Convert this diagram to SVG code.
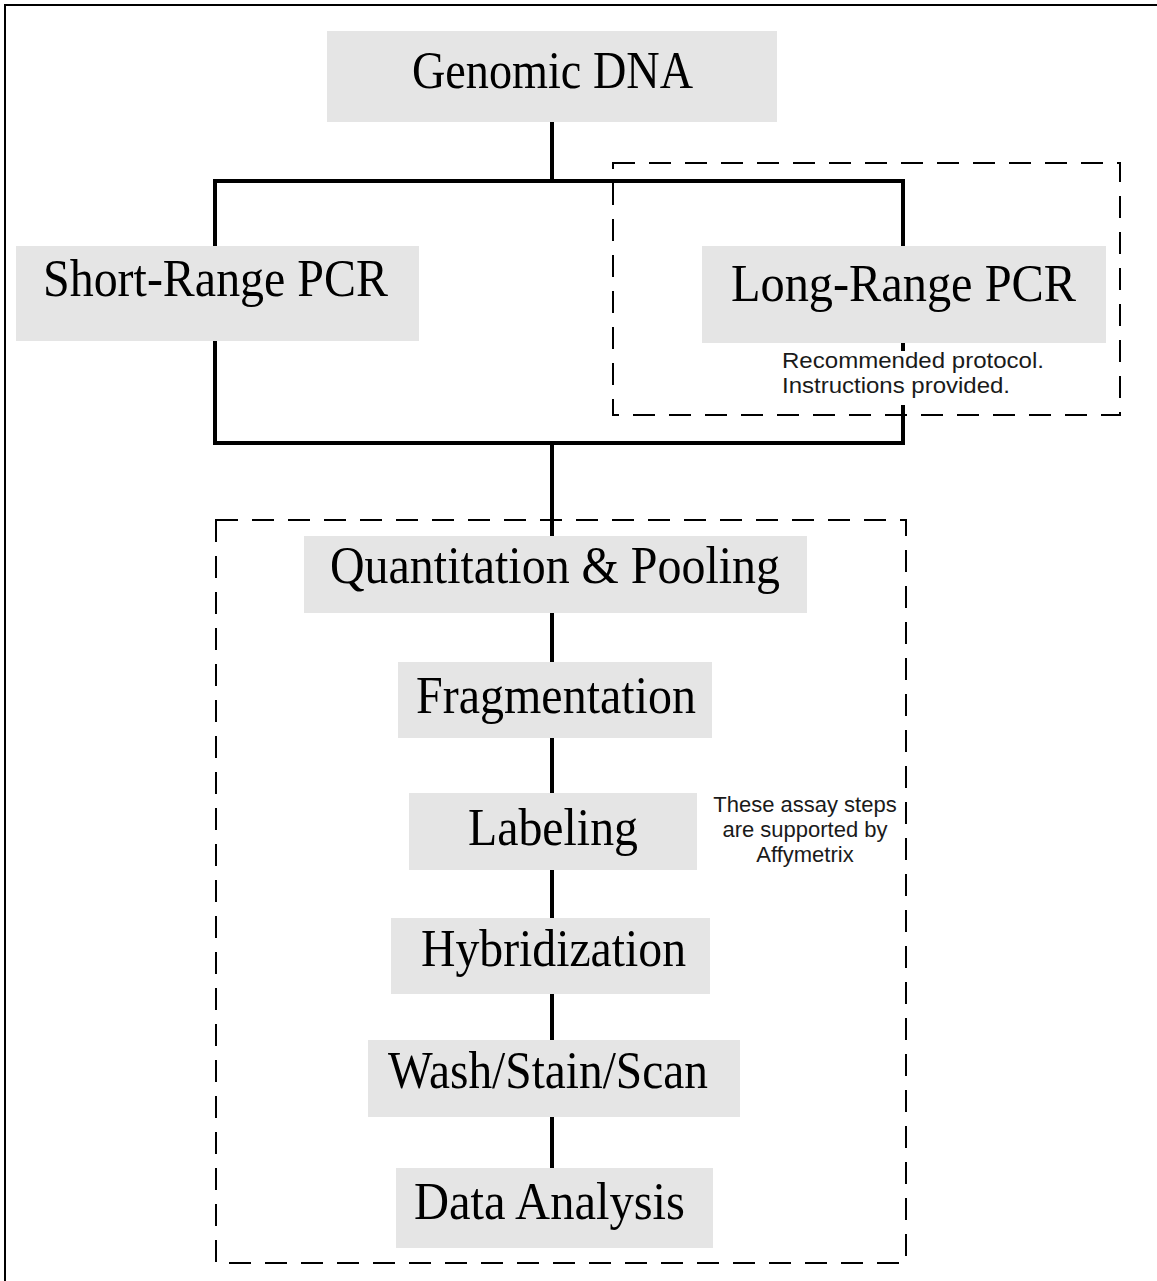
<svg xmlns="http://www.w3.org/2000/svg" width="1157" height="1281" viewBox="0 0 1157 1281">
<style>
.box{fill:#e5e5e5}
.lbl{font-family:"Liberation Serif","Times New Roman",serif;font-size:52px;fill:#000;text-anchor:middle}
.note{font-family:"Liberation Sans",Arial,sans-serif;font-size:22px;fill:#1a1a1a}
.conn{stroke:#000;stroke-width:4;fill:none}
.dash{stroke:#000;stroke-width:2;fill:none;stroke-dasharray:22 14}
</style>
<rect width="1157" height="1281" fill="#fff"/>
<path d="M5,1281 V5 H1157" stroke="#000" stroke-width="2" fill="none"/>
<g id="connectors">
<line class="conn" x1="552" y1="122" x2="552" y2="181"/>
<rect class="conn" x="215" y="181" width="688" height="262"/>
<line class="conn" x1="552" y1="443" x2="552" y2="1168"/>
</g>
<g id="genomic-dna"><rect class="box" x="327" y="31" width="450" height="91"/><text class="lbl" x="552.5" y="88" textLength="281" lengthAdjust="spacingAndGlyphs">Genomic DNA</text></g>
<g id="short-range-pcr"><rect class="box" x="16" y="246" width="403" height="95"/><text class="lbl" x="215.5" y="296" textLength="345" lengthAdjust="spacingAndGlyphs">Short-Range PCR</text></g>
<g id="long-range-pcr"><rect class="box" x="702" y="246" width="404" height="97"/><text class="lbl" x="903.5" y="301" textLength="345" lengthAdjust="spacingAndGlyphs">Long-Range PCR</text></g>
<g id="long-range-note"><rect x="780" y="351" width="240" height="54" fill="#fff"/><text class="note" x="782" y="368" textLength="262" lengthAdjust="spacingAndGlyphs">Recommended protocol.</text><text class="note" x="782" y="393" textLength="228" lengthAdjust="spacingAndGlyphs">Instructions provided.</text></g>
<g id="quantitation-pooling"><rect class="box" x="304" y="536" width="503" height="77"/><text class="lbl" x="555" y="583" textLength="450" lengthAdjust="spacingAndGlyphs">Quantitation &amp; Pooling</text></g>
<g id="fragmentation"><rect class="box" x="398" y="662" width="314" height="76"/><text class="lbl" x="556" y="713" textLength="280" lengthAdjust="spacingAndGlyphs">Fragmentation</text></g>
<g id="labeling"><rect class="box" x="409" y="793" width="288" height="77"/><text class="lbl" x="553" y="845" textLength="170" lengthAdjust="spacingAndGlyphs">Labeling</text></g>
<g id="hybridization"><rect class="box" x="391" y="918" width="319" height="76"/><text class="lbl" x="553.5" y="966" textLength="265" lengthAdjust="spacingAndGlyphs">Hybridization</text></g>
<g id="wash-stain-scan"><rect class="box" x="368" y="1040" width="372" height="77"/><text class="lbl" x="548" y="1088" textLength="320" lengthAdjust="spacingAndGlyphs">Wash/Stain/Scan</text></g>
<g id="data-analysis"><rect class="box" x="396" y="1168" width="317" height="80"/><text class="lbl" x="549.5" y="1219" textLength="271" lengthAdjust="spacingAndGlyphs">Data Analysis</text></g>
<g id="long-range-group"><rect class="dash" x="613" y="163" width="507" height="252"/></g>
<g id="affymetrix-group"><rect class="dash" x="216" y="520" width="690" height="743"/></g>
<g id="affymetrix-note"><text class="note" text-anchor="middle" font-size="23"><tspan x="805" y="812">These assay steps</tspan><tspan x="805" y="837">are supported by</tspan><tspan x="805" y="862">Affymetrix</tspan></text></g>
</svg>
